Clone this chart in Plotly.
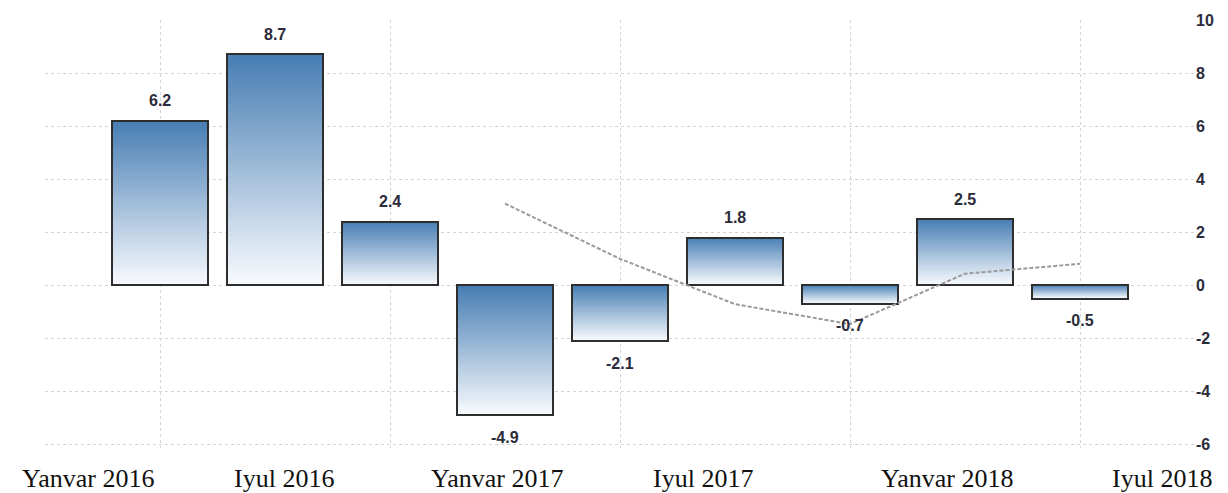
import plotly.graph_objects as go

# Quarterly growth values (%), Q1 2016 .. Q1 2018
quarters = ["2016 Q1", "2016 Q2", "2016 Q3", "2016 Q4",
            "2017 Q1", "2017 Q2", "2017 Q3", "2017 Q4", "2018 Q1"]
values = [6.2, 8.7, 2.4, -4.9, -2.1, 1.8, -0.7, 2.5, -0.5]

# Trend line (starts at the fourth quarter)
trend_start = 3
trend = [3.08, 1.0, -0.71, -1.46, 0.44, 0.81]

# Date labels under the chart
date_labels = ["Yanvar 2016", "Iyul 2016", "Yanvar 2017",
               "Iyul 2017", "Yanvar 2018", "Iyul 2018"]

# Right axis ticks
y_ticks = [10, 8, 6, 4, 2, 0, -2, -4, -6]
y_ticktext = ["10", "8", "6", "4", "2", "0", "-2", "-4", "-6"]

# ---- styling / layout ----
label_x = [-0.626, 1.08, 2.93, 4.72, 6.84, 8.71]
TOP_RGB = (72, 126, 180)
BOTTOM_RGB = (247, 250, 253)
N_STEPS = 48
BAR_W = 0.83

xs = list(range(len(values)))
fig = go.Figure()

# Each bar filled with a vertical gradient: dark at the top edge, white at the bottom
tops = [max(v, 0) for v in values]
bots = [min(v, 0) for v in values]
heights = [t - b for t, b in zip(tops, bots)]
for k in range(N_STEPS):
    f = k / (N_STEPS - 1)
    c = tuple(round(a + (b - a) * f) for a, b in zip(TOP_RGB, BOTTOM_RGB))
    seg = [h / N_STEPS for h in heights]
    base = [t - (k + 1) * s for t, s in zip(tops, seg)]
    fig.add_trace(go.Bar(
        x=xs, y=[s * 1.08 for s in seg], base=base, width=BAR_W,
        marker=dict(color=f"rgb{c}", line=dict(width=0)),
        hoverinfo="skip", showlegend=False,
    ))

# Bar outlines
fig.add_trace(go.Bar(
    x=xs, y=values, width=BAR_W,
    marker=dict(color="rgba(0,0,0,0)", line=dict(color="#2e2e2e", width=2)),
    showlegend=False, hovertext=quarters,
))

# Dashed trend line
fig.add_trace(go.Scatter(
    x=xs[trend_start:trend_start + len(trend)], y=trend, mode="lines",
    line=dict(color="#9a9a9a", width=2, dash="4px,2px"),
    showlegend=False,
))

annotations = []
for x, v in zip(xs, values):
    annotations.append(dict(
        x=x, y=v, xref="x", yref="y", text=f"{v:.1f}", showarrow=False,
        yanchor="middle", yshift=20 if v >= 0 else -22,
        font=dict(family="Liberation Sans", size=16, color="#2b2b3a", weight="bold"),
    ))
for lx, txt in zip(label_x, date_labels):
    annotations.append(dict(
        x=lx, y=0, xref="x", yref="paper", text=txt, showarrow=False,
        yanchor="middle", yshift=-30,
        font=dict(family="Liberation Serif", size=26, color="#111111"),
    ))

fig.update_layout(
    width=1228, height=493,
    margin=dict(l=45, r=33, t=17, b=45),
    paper_bgcolor="white", plot_bgcolor="white",
    barmode="overlay", bargap=0,
    annotations=annotations,
    xaxis=dict(
        range=[-1, 9], tickvals=[0, 2, 4, 6, 8], showticklabels=False,
        showgrid=True, gridcolor="#d4d4d4", griddash="dot", gridwidth=1,
        zeroline=False, showline=False, ticks="",
    ),
    yaxis=dict(
        side="right", range=[-6.13, 10], tickvals=y_ticks, ticktext=y_ticktext,
        showgrid=True, gridcolor="#d4d4d4", griddash="dot", gridwidth=1,
        zeroline=False, showline=False, ticks="",
        tickfont=dict(family="Liberation Sans", size=16, color="#2b2b3a", weight="bold"),
    ),
)

fig.write_html("out.html")
